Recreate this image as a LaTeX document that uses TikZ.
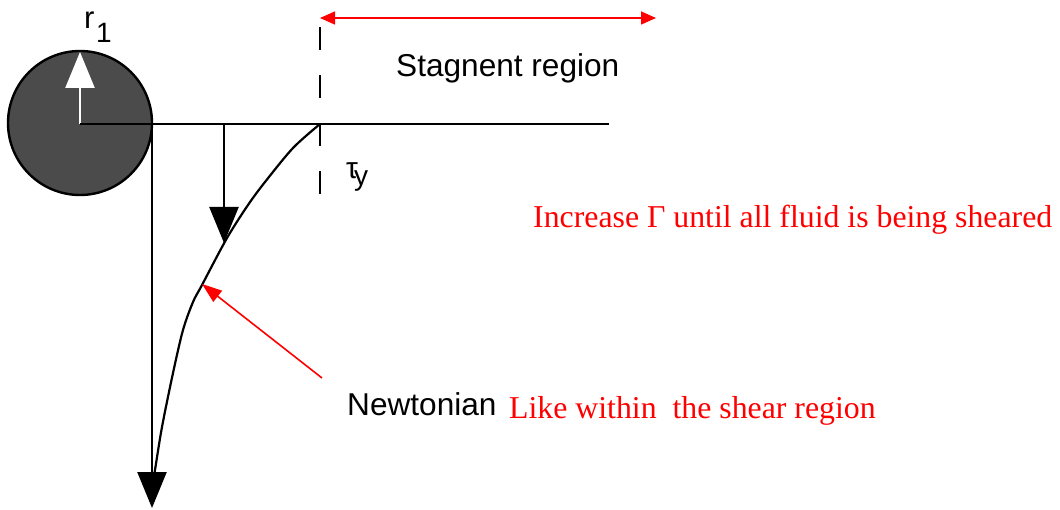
\documentclass[tikz,border=0pt]{standalone}
\usepackage{fontspec}
\setmainfont{Liberation Serif}
\setsansfont{Liberation Sans}
\usetikzlibrary{arrows.meta}
\begin{document}
\begin{tikzpicture}[x=1pt,y=-1pt,
  blk/.style={line width=2.4pt},
  blkarrow/.style={blk,-{Triangle[length=36pt,width=29pt]}},
  redline/.style={red,line width=1.6pt},
  sanslabel/.style={font=\fontsize{31.6}{36}\sffamily,inner sep=0,anchor=base west},
  serlabel/.style={font=\fontsize{31.8}{36}\selectfont,text=red,inner sep=0,anchor=base west},
  smalllabel/.style={font=\fontsize{28}{32}\sffamily,inner sep=0,anchor=base west}]
\useasboundingbox (0,0) rectangle (1060,510);
% disc
\node[circle,draw,line width=2.4pt,fill={rgb,255:red,75;green,75;blue,75},minimum size=144pt,inner sep=0] (disc) at (80,123) {};
\coordinate (c) at (80,124);
\coordinate (ctop) at (80,52);
\draw[white,line width=2.4pt,-{Triangle[length=36pt,width=29pt]}] (c) -- (ctop);
% horizontal line
\coordinate (hend) at (609,124);
\draw[blk] (c) -- (hend);
% vertical arrows
\coordinate (v1top) at (152,124);
\coordinate (v1tip) at (152,508);
\draw[blkarrow] (v1top) -- (v1tip);
\coordinate (v2top) at (224,124);
\coordinate (v2tip) at (224,243);
\draw[blkarrow] (v2top) -- (v2tip);
% dashed line
\coordinate (d1) at (320,27);
\coordinate (d2) at (320,195);
\draw[line width=2.4pt,dash pattern=on 23pt off 25pt] (d1) -- (d2);
% red double arrow
\coordinate (ra) at (320,18);
\coordinate (rb) at (656,18);
\draw[redline,{Triangle[length=15pt,width=13pt]}-{Triangle[length=15pt,width=13pt]}] (ra) -- (rb);
% velocity profile curve
\draw[line width=2.2pt] plot[smooth,tension=0.5] coordinates {(320,124) (293,148) (265,182) (248,205) (227,238) (202,285) (193,302) (183,330) (173,373) (162,427) (155,470) (153,482)};
% red pointer
\coordinate (nl) at (322,378);
\coordinate (cp) at (202,284);
\draw[redline,-{Triangle[length=20pt,width=14pt]}] (nl) -- (cp);
% labels
\node[smalllabel,font=\fontsize{31}{34}\sffamily] (rlab) at (84,29) {r};
\node[smalllabel] (onelab) at (96,43) {1};
\node[smalllabel,font=\fontsize{30}{34}\sffamily] (taulab) at (346,179) {τ};
\node[smalllabel] (ylab) at (354,186) {y};
\node[sanslabel] (stag) at (396,77) {Stagnent region};
\node[sanslabel] (newt) at (347,415) {Newtonian};
\node[serlabel] (like) at (509,418) {Like within~ the shear region};
\node[serlabel] (incr) at (533,228) {Increase Γ until all fluid is being sheared};
\end{tikzpicture}
\end{document}
